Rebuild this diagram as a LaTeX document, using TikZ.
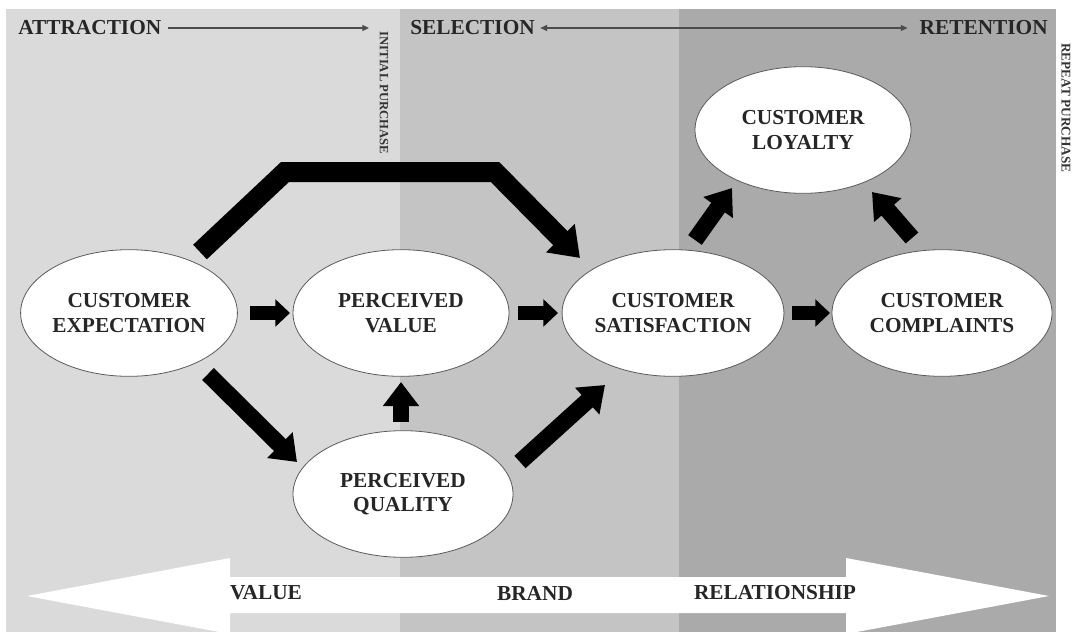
\documentclass[tikz,border=0pt]{standalone}
\usepackage{fontspec}
\setmainfont{Liberation Serif}
\usetikzlibrary{shapes.geometric,arrows.meta}
\definecolor{bandA}{RGB}{218,218,218}
\definecolor{bandB}{RGB}{196,196,196}
\definecolor{bandC}{RGB}{170,170,170}
\definecolor{edgegray}{RGB}{90,90,90}
\tikzset{
  ell/.style={ellipse,draw=edgegray,line width=0.6pt,fill=white,inner sep=0pt,
    minimum width=162pt,minimum height=95pt,align=center,
    font=\bfseries\fontsize{16}{18.5}\selectfont,text=black!85},
  lbl/.style={font=\bfseries\fontsize{16}{18}\selectfont,text=black!85,inner sep=0pt},
  vlbl/.style={font=\bfseries\fontsize{9.5}{11}\selectfont,text=black!80,inner sep=0pt,rotate=-90},
  harrow/.style={line width=11pt,line cap=butt,-{Triangle[length=11pt,width=20pt]}},
  darrow/.style={line width=12.5pt,line cap=butt,-{Triangle[length=18pt,width=26pt]}},
  bigarrow/.style={line width=15pt,line cap=butt,line join=miter,-{Triangle[length=21pt,width=29pt]}},
  thinarrow/.style={draw=black!70,line width=0.8pt},
}
\begin{document}
\begin{tikzpicture}[x=0.75pt,y=-0.75pt]
\useasboundingbox (0,0) rectangle (1074,635);
\fill[white] (0,0) rectangle (1074,635);
% bands
\fill[bandA] (6,9) rectangle (400,632);
\fill[bandB] (400,9) rectangle (679,632);
\fill[bandC] (679,9) rectangle (1056,632);

% bottom white double arrow
\fill[white] (27,596) -- (230,558) -- (230,577) -- (846,577) -- (846,558) -- (1049,596)
  -- (846,634) -- (846,613) -- (230,613) -- (230,634) -- cycle;
\node[lbl] (lv) at (266,593) {VALUE};
\node[lbl] (lb) at (535,593) {BRAND};
\node[lbl] (lr) at (775,593) {RELATIONSHIP};

% top labels
\node[lbl,anchor=west] (atr) at (18,28) {ATTRACTION};
\coordinate (atrEnd) at (369,28);
\draw[thinarrow,-{Triangle[length=5pt,width=4.5pt]}] ([xshift=5pt]atr.east) -- (atrEnd);
\node[vlbl] (ip) at (384,93) {INITIAL PURCHASE};
\node[lbl,anchor=west] (sel) at (410,28) {SELECTION};
\node[lbl,anchor=east] (ret) at (1048,28) {RETENTION};
\draw[thinarrow,{Triangle[length=5pt,width=4.5pt]}-{Triangle[length=5pt,width=4.5pt]}] ([xshift=4pt]sel.east) -- ([xshift=-9pt]ret.west);
\node[vlbl,font=\bfseries\fontsize{10}{12}\selectfont] (rp) at (1066,108) {REPEAT PURCHASE};

% ellipses
\node[ell] (ce) at (129,313) {CUSTOMER\\EXPECTATION};
\node[ell] (pv) at (401,313) {PERCEIVED\\VALUE};
\node[ell,minimum width=165pt] (pq) at (403,494) {PERCEIVED\\QUALITY};
\node[ell] (cs) at (673,313) {CUSTOMER\\SATISFACTION};
\node[ell,minimum width=165pt] (cc) at (942,313) {CUSTOMER\\COMPLAINTS};
\node[ell] (cl) at (803,130) {CUSTOMER\\LOYALTY};

% arrows
\draw[bigarrow] ([shift={(71,-61)}]ce.center) -- (285,172) -- (495,172) -- ([shift={(-93,-55)}]cs.center);
\draw[harrow] ([shift={(121,0)}]ce.center) -- ([shift={(-111,0)}]pv.center);
\draw[harrow] ([shift={(117,0)}]pv.center) -- ([shift={(-115,0)}]cs.center);
\draw[harrow] ([shift={(119,0)}]cs.center) -- ([shift={(-112,0)}]cc.center);
\draw[darrow] ([shift={(-2,-72)}]pq.center) -- ([shift={(0,69)}]pv.center);
\draw[darrow] ([shift={(79,61)}]ce.center) -- ([shift={(-106,-32)}]pq.center);
\draw[darrow] ([shift={(117,-32)}]pq.center) -- ([shift={(-68,72)}]cs.center);
\draw[darrow] ([shift={(22,-73)}]cs.center) -- ([shift={(-71,58)}]cl.center);
\draw[darrow] ([shift={(-30,-75)}]cc.center) -- ([shift={(69,62)}]cl.center);
\end{tikzpicture}
\end{document}
